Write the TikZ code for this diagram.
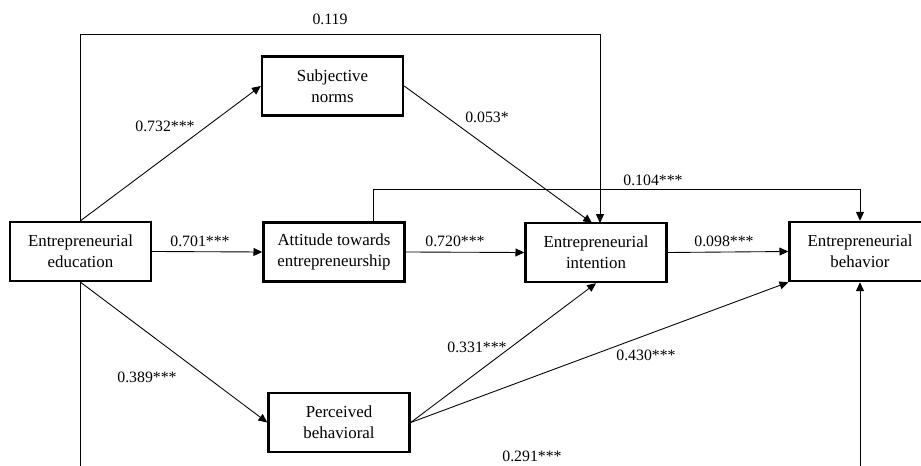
\documentclass[tikz,border=0pt]{standalone}
\usepackage{fontspec}
\setmainfont{Liberation Serif}
\usetikzlibrary{positioning, arrows.meta}

\tikzset{
  varbox/.style={draw, line width=1.4pt, minimum width=2.82cm, minimum height=1.18cm,
    align=center, font=\fontsize{9.6}{12}\selectfont, inner sep=1pt},
  lbl/.style={font=\fontsize{9}{11}\selectfont, inner sep=0pt},
  path/.style={line width=0.5pt, -{Triangle[length=5pt,width=4.5pt]}}
}

\begin{document}
\begin{tikzpicture}[x=0.02cm, y=-0.02cm]
\useasboundingbox (0,0) rectangle (921,466);
\clip (0,0) rectangle (921,466);

% constructs
\node[varbox] (edu) at (80.5,251.5) {Entrepreneurial\\education};
\node[varbox] (sn)  at (332.5,86)   {Subjective\\norms};
\node[varbox] (att) at (334,252)    {Attitude towards\\entrepreneurship};
\node[varbox] (int) at (596,252.5)  {Entrepreneurial\\intention};
\node[varbox] (beh) at (860,251.5)  {Entrepreneurial\\behavior};
\node[varbox] (pbc) at (339,422.5)  {Perceived\\behavioral};

% helper points
\coordinate (top)  at (0,34);
\coordinate (mid)  at (0,189);
\coordinate (low)  at (0,500);
\coordinate (intA) at (600,223);
\coordinate (intB) at (592,223);
\coordinate (attA) at (373,222);

% direct paths
\draw[path] (edu.east) -- (att.west);
\draw[path] (att.east) -- (int.west);
\draw[path] (int.east) -- (beh.west);
\draw[path] (edu.north) -- (sn.west);
\draw[path] (sn.east) -- (intB);
\draw[path] (edu.south) -- (pbc.west);
\draw[path] (pbc.east) -- (int.south);
\draw[path] (pbc.east) -- (beh.south west);

% elbow paths
\draw[path] (edu.north) -- (edu.north |- top) -| (intA);
\draw[path] (attA) -- (attA |- mid) -| (beh.north);
\draw[path] (edu.south) -- (edu.south |- low) -| (beh.south);

% coefficients
\foreach \x/\y/\descr [count=\i] in {330/19/0.119, 165/126/0.732***, 487/117/0.053*,
    653/180/0.104***, 200/241/0.701***, 455/241/0.720***, 724/241/0.098***,
    147/377/0.389***, 477/347/0.331***, 646/355/0.430***, 532/456/0.291***}
\node[lbl] (coef\i) at (\x,\y) {\descr};
\end{tikzpicture}
\end{document}
